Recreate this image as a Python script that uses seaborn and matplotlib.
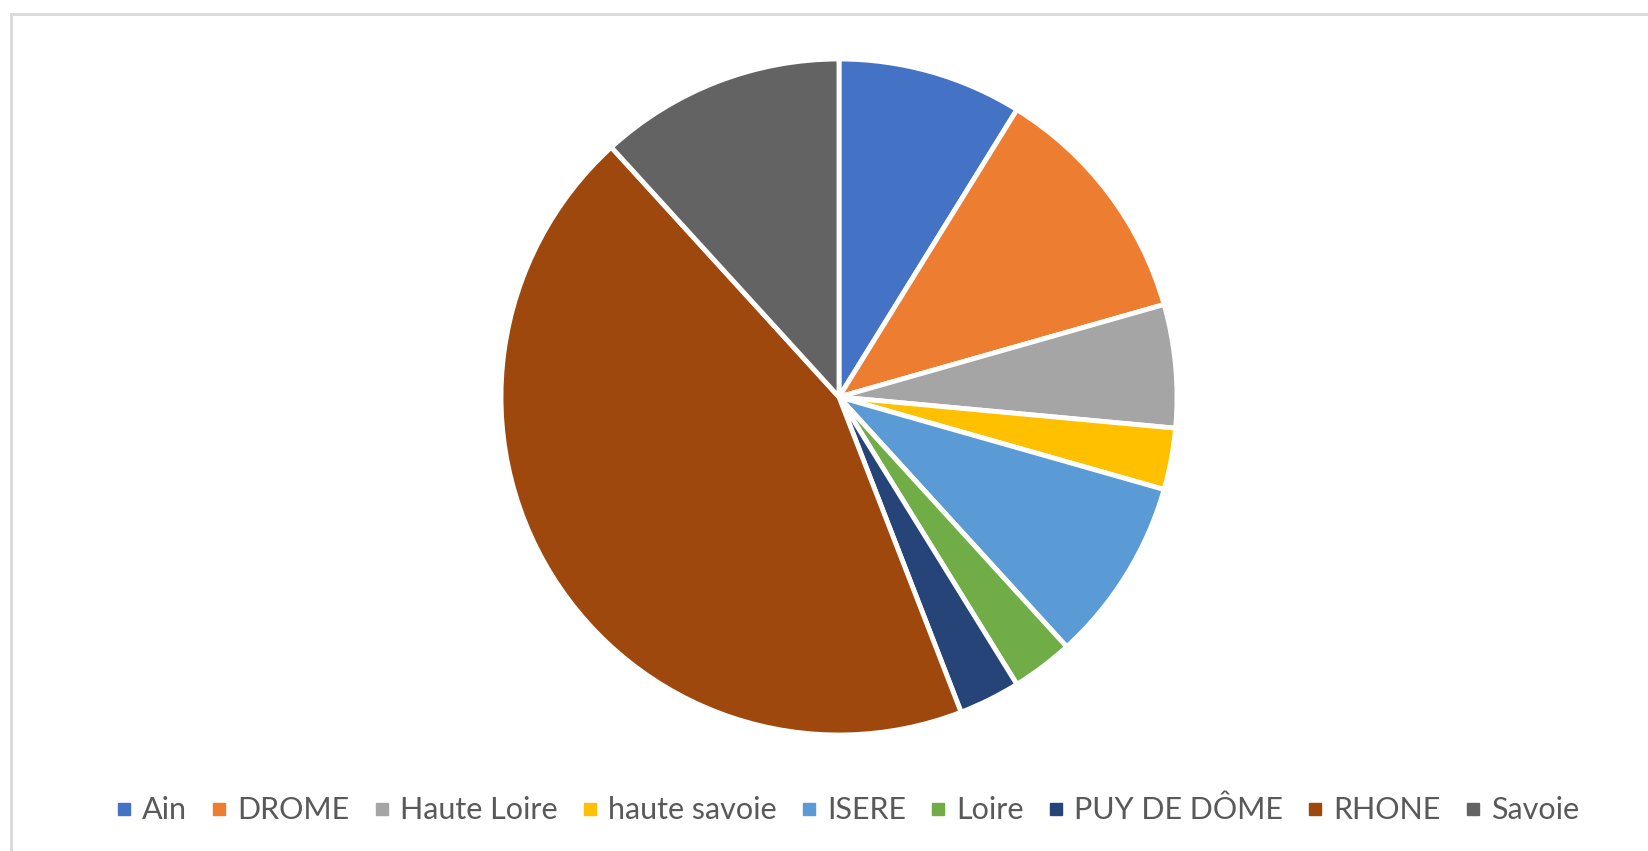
import matplotlib
matplotlib.use("Agg")
import matplotlib.pyplot as plt
from matplotlib.lines import Line2D
from matplotlib.patches import Rectangle
import seaborn as sns

# données
departements = ['Ain', 'DROME', 'Haute Loire', 'haute savoie', 'ISERE',
                'Loire', 'PUY DE DÔME', 'RHONE', 'Savoie']
effectifs = [3, 4, 2, 1, 3, 1, 1, 15, 4]
couleurs = ['#4472C4', '#ED7D31', '#A5A5A5', '#FFC000', '#5B9BD5',
            '#70AD47', '#264478', '#9E480E', '#636363']

sns.set_theme(style="white")
plt.rcParams['font.family'] = ['Lato', 'DejaVu Sans']

W, H = 1648, 851
fig = plt.figure(figsize=(W / 100, H / 100), dpi=100)
fig.patch.set_facecolor('white')

# cadre du graphique (seuls haut et gauche visibles)
fig.add_artist(Rectangle((11 / W, -0.1), 1.2, (H - 14) / H + 0.1,
                         transform=fig.transFigure, fill=False,
                         edgecolor='#D9D9D9', linewidth=2))

cx, cy, r = 839, 397, 338
ax = fig.add_axes([(cx - r) / W, (H - cy - r) / H, 2 * r / W, 2 * r / H])
palette = sns.color_palette(couleurs)
ax.pie(effectifs, colors=palette, startangle=90, counterclock=False,
       wedgeprops=dict(edgecolor='white', linewidth=3.5))
ax.set_xlim(-1, 1)
ax.set_ylim(-1, 1)
ax.set_aspect('equal')
ax.axis('off')

handles = [Line2D([], [], marker='s', linestyle='none', markersize=9,
                  markerfacecolor=c, markeredgecolor=c) for c in couleurs]
leg = fig.legend(handles, departements, loc='center', ncol=len(departements),
                 bbox_to_anchor=(847 / W, 1 - 810 / H), frameon=False,
                 fontsize=22, handlelength=0.6, handletextpad=0.3,
                 columnspacing=0.75)
for t in leg.get_texts():
    t.set_color('#595959')

fig.savefig('out.png', dpi=100, facecolor='white')
